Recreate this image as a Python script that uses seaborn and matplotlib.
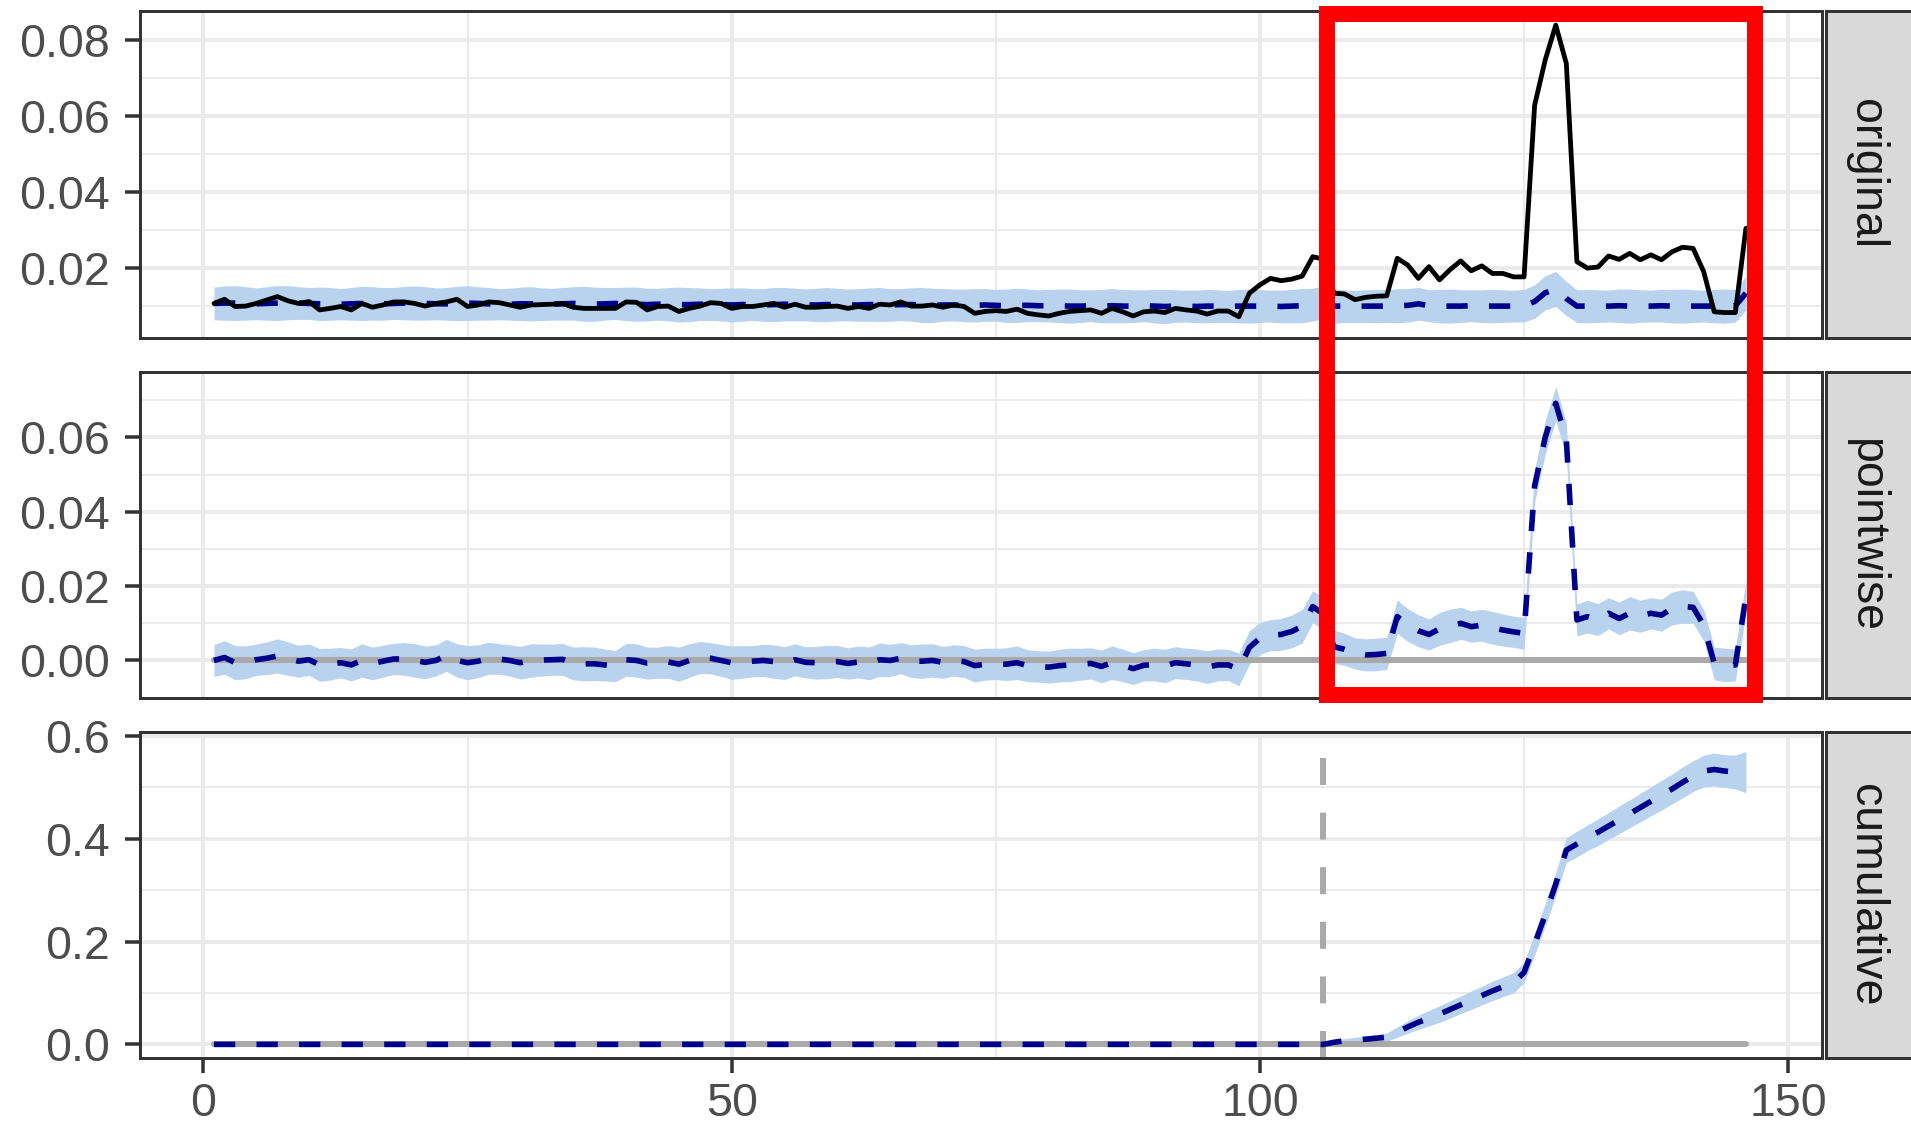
import matplotlib
matplotlib.use("Agg")
import numpy as np
import pandas as pd
import matplotlib.pyplot as plt
import seaborn as sns
from matplotlib.patches import Rectangle

# ---------------- data ----------------
time_index = list(range(1, 147))

observed = [
    0.0107, 0.0118, 0.0099, 0.0100, 0.0107, 0.0116, 0.0125, 0.0114, 0.0107, 0.0112,
    0.0090, 0.0094, 0.0099, 0.0090, 0.0107, 0.0097, 0.0103, 0.0111, 0.0111, 0.0107,
    0.0100, 0.0107, 0.0111, 0.0118, 0.0099, 0.0103, 0.0111, 0.0109, 0.0103, 0.0097,
    0.0103, 0.0104, 0.0105, 0.0107, 0.0097, 0.0094, 0.0094, 0.0094, 0.0094, 0.0111,
    0.0110, 0.0090, 0.0099, 0.0100, 0.0086, 0.0094, 0.0100, 0.0109, 0.0107, 0.0094,
    0.0099, 0.0099, 0.0103, 0.0107, 0.0097, 0.0105, 0.0097, 0.0097, 0.0099, 0.0100,
    0.0094, 0.0099, 0.0094, 0.0105, 0.0103, 0.0111, 0.0100, 0.0100, 0.0103, 0.0097,
    0.0103, 0.0099, 0.0081, 0.0086, 0.0088, 0.0086, 0.0092, 0.0081, 0.0077, 0.0074,
    0.0081, 0.0086, 0.0088, 0.0090, 0.0081, 0.0094, 0.0085, 0.0074, 0.0085, 0.0087,
    0.0083, 0.0094, 0.0090, 0.0087, 0.0079, 0.0087, 0.0087, 0.0072, 0.0134, 0.0156,
    0.0173, 0.0167, 0.0171, 0.0179, 0.0230, 0.0224, 0.0134, 0.0132, 0.0117, 0.0123,
    0.0126, 0.0127, 0.0226, 0.0208, 0.0173, 0.0204, 0.0169, 0.0196, 0.0219, 0.0193,
    0.0206, 0.0186, 0.0186, 0.0177, 0.0177, 0.0629, 0.0748, 0.0840, 0.0739, 0.0217,
    0.0200, 0.0203, 0.0232, 0.0223, 0.0239, 0.0222, 0.0235, 0.0222, 0.0243, 0.0255,
    0.0252, 0.0191, 0.0085, 0.0083, 0.0083, 0.0305,
]

predicted = [
    0.0107, 0.0108, 0.0108, 0.0107, 0.0106, 0.0107, 0.0108, 0.0109, 0.0108, 0.0107,
    0.0106, 0.0106, 0.0105, 0.0106, 0.0107, 0.0107, 0.0106, 0.0107, 0.0108, 0.0108,
    0.0107, 0.0106, 0.0106, 0.0107, 0.0108, 0.0107, 0.0106, 0.0105, 0.0105, 0.0106,
    0.0106, 0.0105, 0.0105, 0.0106, 0.0107, 0.0106, 0.0105, 0.0106, 0.0107, 0.0106,
    0.0105, 0.0104, 0.0105, 0.0105, 0.0104, 0.0104, 0.0105, 0.0104, 0.0104, 0.0103,
    0.0104, 0.0104, 0.0103, 0.0104, 0.0105, 0.0104, 0.0103, 0.0103, 0.0104, 0.0104,
    0.0103, 0.0103, 0.0104, 0.0104, 0.0103, 0.0104, 0.0104, 0.0103, 0.0102, 0.0103,
    0.0103, 0.0102, 0.0102, 0.0103, 0.0102, 0.0101, 0.0102, 0.0102, 0.0101, 0.0101,
    0.0101, 0.0100, 0.0100, 0.0101, 0.0100, 0.0101, 0.0100, 0.0100, 0.0101, 0.0100,
    0.0099, 0.0100, 0.0100, 0.0099, 0.0100, 0.0100, 0.0099, 0.0100, 0.0100, 0.0100,
    0.0100, 0.0099, 0.0100, 0.0101, 0.0104, 0.0110, 0.0100, 0.0100, 0.0099, 0.0100,
    0.0100, 0.0100, 0.0101, 0.0102, 0.0106, 0.0101, 0.0100, 0.0100, 0.0100, 0.0101,
    0.0100, 0.0100, 0.0100, 0.0100, 0.0101, 0.0112, 0.0135, 0.0145, 0.0120, 0.0100,
    0.0100, 0.0100, 0.0100, 0.0101, 0.0100, 0.0100, 0.0100, 0.0101, 0.0100, 0.0100,
    0.0100, 0.0100, 0.0100, 0.0100, 0.0101, 0.0134,
]

interval_halfwidth = [
    0.0043, 0.0045, 0.0046, 0.0044, 0.0042, 0.0044, 0.0046, 0.0045, 0.0043, 0.0042,
    0.0044, 0.0043, 0.0041, 0.0043, 0.0045, 0.0044, 0.0043, 0.0042, 0.0044, 0.0045,
    0.0044, 0.0042, 0.0043, 0.0045, 0.0046, 0.0044, 0.0043, 0.0041, 0.0042, 0.0044,
    0.0045, 0.0043, 0.0042, 0.0043, 0.0044, 0.0046, 0.0045, 0.0043, 0.0042, 0.0044,
    0.0045, 0.0043, 0.0042, 0.0044, 0.0046, 0.0045, 0.0043, 0.0042, 0.0043, 0.0045,
    0.0044, 0.0042, 0.0043, 0.0045, 0.0044, 0.0043, 0.0042, 0.0044, 0.0045, 0.0043,
    0.0042, 0.0043, 0.0044, 0.0045, 0.0043, 0.0042, 0.0044, 0.0046, 0.0045, 0.0043,
    0.0042, 0.0043, 0.0044, 0.0043, 0.0042, 0.0044, 0.0045, 0.0043, 0.0042, 0.0043,
    0.0044, 0.0045, 0.0043, 0.0042, 0.0044, 0.0045, 0.0044, 0.0043, 0.0042, 0.0044,
    0.0045, 0.0043, 0.0042, 0.0043, 0.0044, 0.0043, 0.0042, 0.0044, 0.0045, 0.0043,
    0.0042, 0.0043, 0.0044, 0.0045, 0.0043, 0.0044, 0.0045, 0.0043, 0.0042, 0.0043,
    0.0044, 0.0043, 0.0045, 0.0044, 0.0043, 0.0042, 0.0044, 0.0045, 0.0043, 0.0042,
    0.0043, 0.0044, 0.0043, 0.0042, 0.0043, 0.0044, 0.0045, 0.0046, 0.0045, 0.0043,
    0.0044, 0.0043, 0.0042, 0.0044, 0.0045, 0.0043, 0.0042, 0.0043, 0.0044, 0.0045,
    0.0043, 0.0042, 0.0044, 0.0045, 0.0043, 0.0044,
]

pointwise_effect = [
    0.0000, 0.0008, -0.0006, -0.0005, 0.0002, 0.0006, 0.0012, 0.0005, -0.0002, 0.0002,
    -0.0012, -0.0010, -0.0006, -0.0012, 0.0000, -0.0008, -0.0002, 0.0004, 0.0004, 0.0000,
    -0.0005, 0.0000, 0.0014, 0.0000, -0.0006, -0.0002, 0.0006, 0.0004, 0.0000, -0.0006,
    0.0000, 0.0001, 0.0002, 0.0003, -0.0008, -0.0009, -0.0009, -0.0012, -0.0015, 0.0002,
    0.0000, -0.0007, -0.0006, -0.0004, -0.0010, 0.0000, 0.0008, 0.0006, 0.0000, -0.0006,
    -0.0004, -0.0002, 0.0000, -0.0003, -0.0007, 0.0002, -0.0005, -0.0006, -0.0004, -0.0003,
    -0.0008, -0.0004, -0.0008, 0.0002, 0.0000, 0.0006, -0.0002, -0.0002, 0.0000, -0.0005,
    0.0000, -0.0003, -0.0014, -0.0010, -0.0009, -0.0010, -0.0006, -0.0014, -0.0016, -0.0018,
    -0.0014, -0.0012, -0.0010, -0.0008, -0.0016, -0.0006, -0.0013, -0.0022, -0.0013, -0.0011,
    -0.0015, -0.0006, -0.0009, -0.0012, -0.0018, -0.0012, -0.0012, -0.0024, 0.0035, 0.0060,
    0.0068, 0.0070, 0.0078, 0.0092, 0.0145, 0.0125, 0.0037, 0.0030, 0.0019, 0.0015,
    0.0016, 0.0019, 0.0118, 0.0095, 0.0080, 0.0070, 0.0085, 0.0093, 0.0100, 0.0091,
    0.0095, 0.0088, 0.0082, 0.0077, 0.0073, 0.0470, 0.0600, 0.0692, 0.0595, 0.0109,
    0.0118, 0.0110, 0.0127, 0.0113, 0.0127, 0.0119, 0.0127, 0.0122, 0.0140, 0.0145,
    0.0143, 0.0095, -0.0008, -0.0012, -0.0012, 0.0172,
]

cumulative_effect = [0.0] * 106 + [
    0.004, 0.007, 0.009, 0.010, 0.012, 0.014, 0.024, 0.034, 0.043, 0.051,
    0.059, 0.068, 0.077, 0.086, 0.095, 0.104, 0.112, 0.120, 0.140, 0.195,
    0.252, 0.312, 0.378, 0.390, 0.402, 0.413, 0.425, 0.437, 0.449, 0.461,
    0.473, 0.485, 0.497, 0.510, 0.522, 0.532, 0.535, 0.532, 0.530, 0.530,
]

cumulative_halfwidth = [0.0] * 106 + [
    0.003, 0.004, 0.005, 0.006, 0.007, 0.008, 0.010, 0.012, 0.014, 0.015,
    0.016, 0.017, 0.017, 0.018, 0.018, 0.019, 0.019, 0.020, 0.020, 0.021,
    0.022, 0.023, 0.024, 0.025, 0.025, 0.026, 0.026, 0.027, 0.027, 0.028,
    0.028, 0.029, 0.029, 0.030, 0.030, 0.031, 0.032, 0.032, 0.033, 0.040,
]

zero_baseline = [0.0] * 146
intervention_time = 106

panel_labels = ["original", "pointwise", "cumulative"]
x_ticks = [0, 50, 100, 150]
x_tick_labels = ["0", "50", "100", "150"]
x_minor = [25, 75, 125]
y_ticks = [[0.02, 0.04, 0.06, 0.08], [0.00, 0.02, 0.04, 0.06], [0.0, 0.2, 0.4, 0.6]]
y_tick_labels = [["0.02", "0.04", "0.06", "0.08"],
                 ["0.00", "0.02", "0.04", "0.06"],
                 ["0.0", "0.2", "0.4", "0.6"]]
y_minor = [[0.01, 0.03, 0.05, 0.07], [-0.01, 0.01, 0.03, 0.05, 0.07], [0.1, 0.3, 0.5]]
y_limits = [(0.0016, 0.0878), (-0.0101, 0.0777), (-0.0271, 0.6086)]
x_limits = (-6.0, 153.2)

for arr in (observed, predicted, interval_halfwidth, pointwise_effect,
            cumulative_effect, cumulative_halfwidth):
    assert len(arr) == 146, len(arr)

# ---------------- style ----------------
sns.set_theme(style="white")
plt.rcParams["font.family"] = ["Liberation Sans", "DejaVu Sans"]

W, H = 1911, 1130
PT = 0.72  # points per pixel at dpi 100
FS = 33.5
BAND = "#B9D3EE"
NAVY = "#00008B"
GREY = "#A9A9A9"
BORDER = "#333333"
GRID = "#EBEBEB"

fig = plt.figure(figsize=(W / 100, H / 100), dpi=100)

panel_px = [(10.7, 338.0), (371.7, 698.0), (731.7, 1058.3)]
left_px, right_px = 140.0, 1822.0


def add_ax(top, bottom):
    return fig.add_axes([left_px / W, 1 - bottom / H,
                         (right_px - left_px) / W, (bottom - top) / H])


axes = [add_ax(t, b) for t, b in panel_px]

x = np.array(time_index)
obs = np.array(observed)
pred = np.array(predicted)
hw = np.array(interval_halfwidth)
pw = np.array(pointwise_effect)
cum = np.array(cumulative_effect)
chw = np.array(cumulative_halfwidth)

NAVY_LW = 5.6 * PT
dash_navy = (0, (3.8, 3.8))

# --- original panel
ax = axes[0]
ax.fill_between(x, pred - hw, pred + hw, color=BAND, lw=0, zorder=1)
sns.lineplot(x=x, y=pred, ax=ax, color=NAVY, linewidth=NAVY_LW, linestyle=dash_navy,
             estimator=None, errorbar=None, zorder=3)
sns.lineplot(x=x, y=obs, ax=ax, color="black", linewidth=4.8 * PT,
             estimator=None, errorbar=None, zorder=4)

# --- pointwise panel
ax = axes[1]
ax.fill_between(x, pw - hw, pw + hw, color=BAND, lw=0, zorder=1)
sns.lineplot(x=x, y=zero_baseline, ax=ax, color=GREY, linewidth=6 * PT,
             estimator=None, errorbar=None, zorder=2)
sns.lineplot(x=x, y=pw, ax=ax, color=NAVY, linewidth=NAVY_LW, linestyle=dash_navy,
             estimator=None, errorbar=None, zorder=3)

# --- cumulative panel
ax = axes[2]
ax.fill_between(x, cum - chw, cum + chw, color=BAND, lw=0, zorder=1)
sns.lineplot(x=x, y=zero_baseline, ax=ax, color=GREY, linewidth=6 * PT,
             estimator=None, errorbar=None, zorder=2)
ax.axvline(intervention_time, color=GREY, linewidth=6 * PT,
           linestyle=(0, (4.5, 4.6)), zorder=2.5)
sns.lineplot(x=x, y=cum, ax=ax, color=NAVY, linewidth=NAVY_LW, linestyle=dash_navy,
             estimator=None, errorbar=None, zorder=3)

for i, ax in enumerate(axes):
    ax.set_facecolor("white")
    ax.set_xlim(*x_limits)
    ax.set_ylim(*y_limits[i])
    ax.set_xticks(x_ticks)
    ax.set_xticks(x_minor, minor=True)
    ax.set_yticks(y_ticks[i], labels=y_tick_labels[i])
    ax.set_yticks(y_minor[i], minor=True)
    ax.set_axisbelow(True)
    ax.grid(which="major", color=GRID, linewidth=4 * PT)
    ax.grid(which="minor", color=GRID, linewidth=2 * PT)
    ax.set_xlabel("")
    ax.set_ylabel("")
    for sp in ax.spines.values():
        sp.set_visible(True)
        sp.set_color(BORDER)
        sp.set_linewidth(3 * PT)
        sp.set_zorder(6)
    ax.tick_params(axis="y", which="major", length=15 * PT, width=3.5 * PT,
                   color=BORDER, labelcolor="#4D4D4D", labelsize=FS, pad=11,
                   left=True)
    ax.tick_params(which="minor", length=0)
    if i < 2:
        ax.tick_params(axis="x", which="major", length=0, labelbottom=False,
                       bottom=False)
    else:
        ax.set_xticklabels(x_tick_labels)
        ax.tick_params(axis="x", which="major", length=15 * PT, width=3.5 * PT,
                       color=BORDER, labelcolor="#4D4D4D", labelsize=FS, pad=6,
                       bottom=True)
    if ax.get_legend() is not None:
        ax.get_legend().remove()

# --- facet strips on the right
strip_left, strip_right = 1826.0, 1914.0
for (top, bottom), label in zip(panel_px, panel_labels):
    rect = Rectangle((strip_left / W, 1 - bottom / H),
                     (strip_right - strip_left) / W, (bottom - top) / H,
                     transform=fig.transFigure, facecolor="#D9D9D9",
                     edgecolor=BORDER, linewidth=3 * PT, clip_on=False)
    fig.add_artist(rect)
    fig.text(1866 / W, 1 - (top + bottom) / 2 / H, label, rotation=270,
             ha="center", va="center", fontsize=FS, color="#1A1A1A")

# --- red highlight rectangle
r_left, r_right, r_top, r_bottom = 1327.0, 1755.0, 14.0, 694.7
red = Rectangle((r_left / W, 1 - r_bottom / H), (r_right - r_left) / W,
                (r_bottom - r_top) / H, transform=fig.transFigure, fill=False,
                edgecolor="#FF0000", linewidth=16 * PT, joinstyle="miter",
                zorder=20, clip_on=False)
fig.add_artist(red)

fig.savefig("out.png", dpi=100, facecolor="white")
